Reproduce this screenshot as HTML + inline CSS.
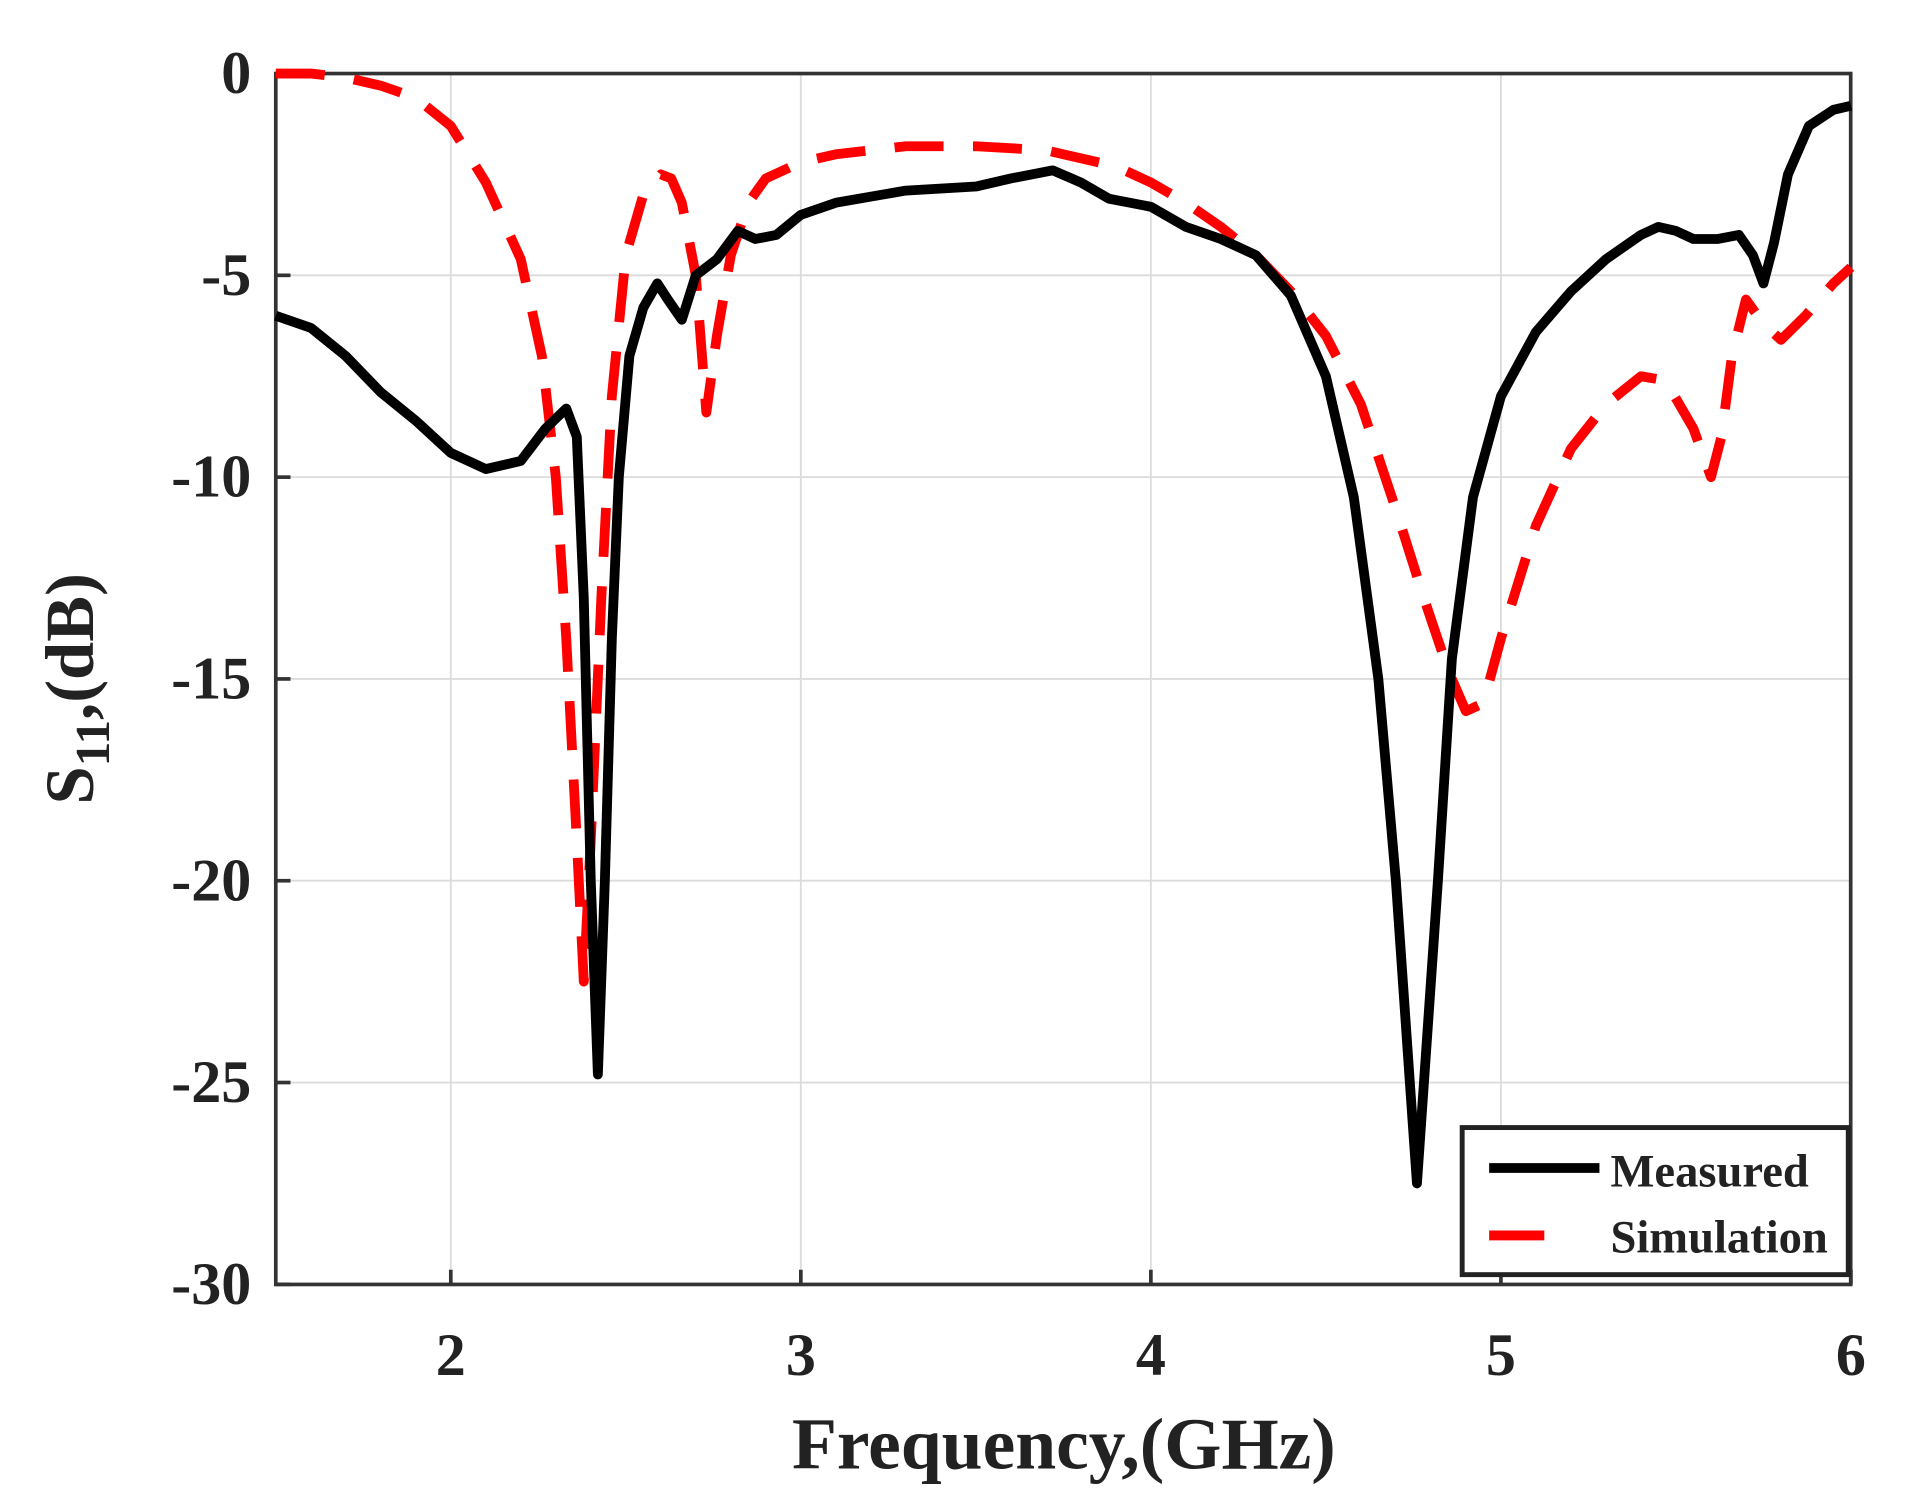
<!DOCTYPE html>
<html><head><meta charset="utf-8"><style>
html,body{margin:0;padding:0;background:#fff;}
svg{display:block;}
text{font-family:"Liberation Serif",serif;font-weight:bold;fill:#222;}
</style></head><body>
<svg id="s" width="1912" height="1508" viewBox="0 0 1560 1230.4" xmlns="http://www.w3.org/2000/svg">
<rect width="1560" height="1231" fill="#fff"/>
<g id="grid" stroke="#dcdcdc" stroke-width="1.5"></g>
<g id="axes"></g>
<polyline id="sim" fill="none" stroke="#ff0000" stroke-width="8" stroke-dasharray="40,24" stroke-linejoin="round"/>
<polyline id="meas" fill="none" stroke="#000" stroke-width="8" stroke-linejoin="round"/>
<g id="labels" font-size="49"></g>
<rect x="1193" y="920" width="315" height="120" fill="#fff" stroke="#222" stroke-width="4"/>
<line x1="1215" y1="953" x2="1305" y2="953" stroke="#000" stroke-width="8"/>
<line x1="1215" y1="1008" x2="1305" y2="1008" stroke="#ff0000" stroke-width="8" stroke-dasharray="45,45"/>
<text x="1314" y="968" font-size="38">Measured</text>
<text x="1314" y="1022" font-size="38">Simulation</text>
<text x="868" y="1198" font-size="60" text-anchor="middle">Frequency,(GHz)</text>
<text transform="translate(76,562) rotate(-90)" font-size="56" text-anchor="middle">S<tspan font-size="40" dy="13">11</tspan><tspan dy="-13">,(dB)</tspan></text>
</svg>
<script>
var X=function(f){return 225+(f-1.5)*285.6;},Y=function(d){return 60-d*32.93;};
var ns="http://www.w3.org/2000/svg";
function el(p,t,a,txt){var e=document.createElementNS(ns,t);for(var k in a)e.setAttribute(k,a[k]);if(txt!==undefined)e.textContent=txt;document.getElementById(p).appendChild(e);}
for(var f=2;f<=5;f++)el("grid","line",{x1:X(f),y1:60,x2:X(f),y2:1048});
for(var d=-5;d>=-25;d-=5)el("grid","line",{x1:225,y1:Y(d),x2:1510,y2:Y(d)});
el("axes","rect",{x:225,y:60,width:1285,height:988,fill:"none",stroke:"#333","stroke-width":3});
for(var f=2;f<=6;f++){el("labels","text",{x:X(f),y:1122,"text-anchor":"middle"},""+f);el("axes","line",{x1:X(f),y1:1048,x2:X(f),y2:1036,stroke:"#333","stroke-width":3});}
for(var d=0;d>=-30;d-=5){el("labels","text",{x:205,y:Y(d)+16,"text-anchor":"end"},""+d);el("axes","line",{x1:225,y1:Y(d),x2:237,y2:Y(d),stroke:"#333","stroke-width":3});}
var M=[1.5,-6,1.6,-6.3,1.7,-7,1.8,-7.9,1.9,-8.6,2.0,-9.4,2.1,-9.8,2.2,-9.6,2.27,-8.8,2.33,-8.3,2.36,-9,2.38,-13,2.4,-20,2.42,-24.8,2.44,-20,2.46,-14,2.48,-10,2.51,-7,2.55,-5.8,2.59,-5.2,2.62,-5.6,2.66,-6.1,2.7,-5,2.76,-4.6,2.82,-3.9,2.87,-4.1,2.93,-4,3.0,-3.5,3.1,-3.2,3.3,-2.9,3.5,-2.8,3.6,-2.6,3.72,-2.4,3.8,-2.7,3.88,-3.1,4.0,-3.3,4.1,-3.8,4.2,-4.1,4.3,-4.5,4.4,-5.5,4.5,-7.5,4.58,-10.5,4.65,-15,4.7,-20,4.74,-25,4.76,-27.5,4.78,-25,4.82,-20,4.86,-14.5,4.92,-10.5,5.0,-8,5.1,-6.4,5.2,-5.4,5.3,-4.6,5.4,-4,5.45,-3.8,5.5,-3.9,5.55,-4.1,5.62,-4.1,5.68,-4,5.72,-4.5,5.75,-5.2,5.78,-4.2,5.82,-2.5,5.88,-1.3,5.95,-0.9,6.0,-0.8];
var S=[1.5,0,1.6,0,1.7,-0.1,1.8,-0.3,1.9,-0.6,2.0,-1.3,2.1,-2.7,2.2,-4.6,2.26,-7,2.3,-10,2.33,-14,2.36,-19,2.38,-22.5,2.4,-19,2.43,-13,2.46,-8,2.5,-4.5,2.55,-3,2.6,-2.5,2.63,-2.6,2.66,-3.2,2.7,-5,2.73,-8.4,2.76,-6.5,2.8,-4.5,2.85,-3.2,2.9,-2.6,3.0,-2.2,3.1,-2,3.3,-1.8,3.5,-1.8,3.7,-1.9,3.9,-2.3,4.0,-2.7,4.1,-3.2,4.2,-3.8,4.3,-4.5,4.4,-5.4,4.5,-6.5,4.6,-8.2,4.7,-10.8,4.78,-13,4.85,-14.8,4.9,-15.8,4.95,-15.6,5.0,-14,5.1,-11.2,5.2,-9.3,5.3,-8.2,5.4,-7.5,5.47,-7.6,5.55,-8.8,5.6,-10,5.63,-9,5.66,-7,5.7,-5.6,5.75,-6.2,5.8,-6.6,5.87,-6,5.95,-5.2,6.0,-4.8];
function pts(a){var s=[];for(var i=0;i<a.length;i+=2)s.push(X(a[i]).toFixed(1)+","+Y(a[i+1]).toFixed(1));return s.join(" ");}
document.getElementById("meas").setAttribute("points",pts(M));
document.getElementById("sim").setAttribute("points",pts(S));
</script>
</body></html>
